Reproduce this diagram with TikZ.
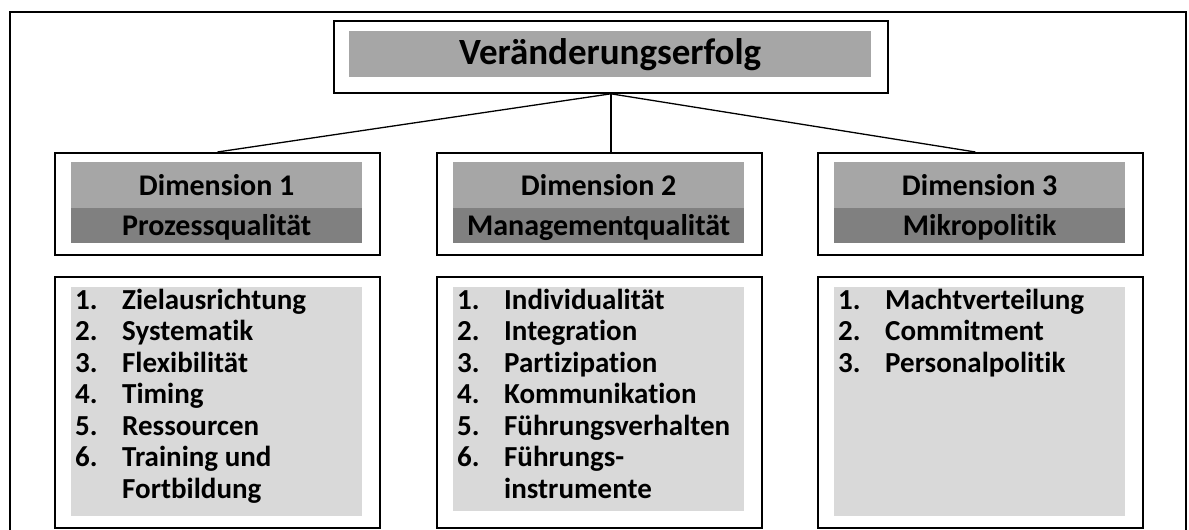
\documentclass[tikz,border=0pt]{standalone}
\usepackage{fontspec}
\setmainfont{Carlito}[Ligatures=NoCommon]
\usetikzlibrary{shadows}
\definecolor{bandA}{HTML}{A6A6A6}
\definecolor{bandB}{HTML}{808080}
\definecolor{bandC}{HTML}{D9D9D9}
\newcommand{\listfont}{\fontsize{29}{31.5}\selectfont\bfseries}
\begin{document}
\begin{tikzpicture}[x=1pt,y=-1pt,
  box/.style={draw=black, line width=1.8pt, fill=white, anchor=north west, inner sep=0pt,
    drop shadow={shadow xshift=1.3pt, shadow yshift=-1.3pt, opacity=0.45, fill=black}},
  band/.style={draw=none, anchor=north west, inner sep=0pt},
  dimtext/.style={font=\fontsize{30}{32}\selectfont\bfseries, inner sep=0pt},
  conn/.style={draw=black, line width=1.3pt},
  listtext/.style={anchor=north west, inner sep=0pt, align=left, font=\listfont}
]
\useasboundingbox (0,0) rectangle (1189,530);
% outer frame (bottom edge lies outside the picture)
\draw[line width=2.6pt] (10,560) -- (10,12) -- (1186,12) -- (1186,560);

% top box
\node[box, minimum width=554pt, minimum height=72pt] (top) at (333,20) {};
\node[band, fill=bandA, minimum width=522pt, minimum height=46pt] (topband) at (349,31) {};
\node[font=\fontsize{37}{40}\selectfont\bfseries] (title) at (topband.center) {Veränderungserfolg};

% dimension boxes
\foreach \n/\x/\a/\b in {1/54/Dimension 1/Prozessqualität, 2/436/Dimension 2/Managementqualität, 3/817/Dimension 3/Mikropolitik}{
  \node[box, minimum width=325pt, minimum height=102pt] (d\n) at (\x,152) {};
  \node[band, fill=bandA, minimum width=291pt, minimum height=46pt] (du\n) at (\x+17,162) {};
  \node[band, fill=bandB, minimum width=291pt, minimum height=35pt] (dl\n) at (\x+17,208) {};
  \node[dimtext, anchor=base] (dut\n) at ([yshift=-10pt]du\n.center) {\a};
  \node[dimtext, anchor=base] (dlt\n) at ([yshift=-10pt]dl\n.center) {\b};
}

% list boxes
\node[box, minimum width=325pt, minimum height=251pt] (l1) at (54,276) {};
\node[box, minimum width=325pt, minimum height=251pt] (l2) at (436,276) {};
\node[box, minimum width=325pt, minimum height=251pt] (l3) at (817,276) {};
\node[band, fill=bandC, minimum width=291pt, minimum height=229pt] (lb1) at (71,287) {};
\node[band, fill=bandC, minimum width=291pt, minimum height=224pt] (lb2) at (453,287) {};
\node[band, fill=bandC, minimum width=291pt, minimum height=229pt] (lb3) at (834,287) {};

\node[listtext] (t1) at (75,287) {\begin{tabular}{@{}p{47pt}@{}l@{}}
1. & Zielausrichtung\\ 2. & Systematik\\ 3. & Flexibilität\\ 4. & Timing\\
5. & Ressourcen\\ 6. & Training und\\ & Fortbildung\end{tabular}};
\node[listtext] (t2) at (457,287) {\begin{tabular}{@{}p{47pt}@{}l@{}}
1. & Individualität\\ 2. & Integration\\ 3. & Partizipation\\ 4. & Kommunikation\\
5. & Führungsverhalten\\ 6. & Führungs-\\ & instrumente\end{tabular}};
\node[listtext] (t3) at (838,287) {\begin{tabular}{@{}p{47pt}@{}l@{}}
1. & Machtverteilung\\ 2. & Commitment\\ 3. & Personalpolitik\end{tabular}};

% connectors
\draw[conn] (top.south) -- (d1.north);
\draw[conn] (top.south) -- (top.south |- d2.north);
\draw[conn] (top.south) -- ([xshift=-5pt]d3.north);
\end{tikzpicture}
\end{document}
